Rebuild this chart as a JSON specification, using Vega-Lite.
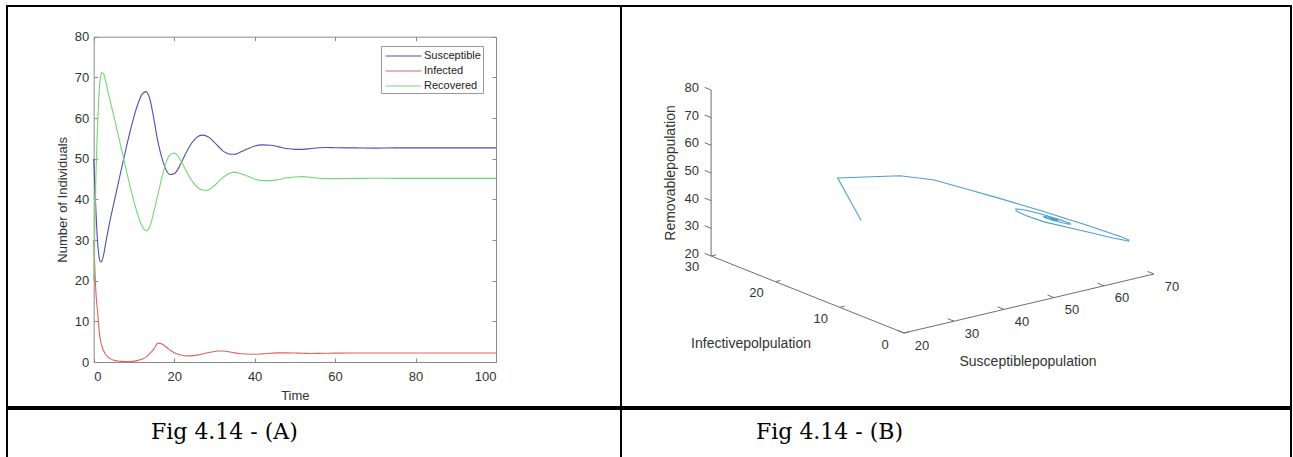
{
  "$schema": "https://vega.github.io/schema/vega-lite/v6.json",
  "padding": {"left": 6, "top": 5, "right": 0, "bottom": 0},
  "spacing": 0,
  "config": {
    "view": {"stroke": "black", "strokeWidth": 2},
    "font": "Liberation Sans",
    "axis": {"labelFont": "Liberation Sans", "titleFont": "Liberation Sans", "labelFontSize": 13, "titleFontSize": 13, "titleFontWeight": "normal", "labelColor": "#333333", "titleColor": "#333333", "domainColor": "#8a8a8a", "tickColor": "#8a8a8a", "grid": false}
  },
  "datasets": {
    "series": [
      {"t": 0, "Susceptible": 50, "Infected": 30, "Recovered": 20},
      {"t": 0.25, "Susceptible": 44, "Infected": 24, "Recovered": 32},
      {"t": 0.5, "Susceptible": 38.5, "Infected": 18, "Recovered": 43.5},
      {"t": 0.75, "Susceptible": 33, "Infected": 14.5, "Recovered": 52.5},
      {"t": 1, "Susceptible": 29, "Infected": 12, "Recovered": 59},
      {"t": 1.25, "Susceptible": 26.5, "Infected": 9, "Recovered": 64.5},
      {"t": 1.5, "Susceptible": 25, "Infected": 6.5, "Recovered": 68.5},
      {"t": 1.75, "Susceptible": 24.6, "Infected": 5, "Recovered": 70.4},
      {"t": 2, "Susceptible": 24.8, "Infected": 4, "Recovered": 71.2},
      {"t": 2.5, "Susceptible": 26.5, "Infected": 2.7, "Recovered": 70.8},
      {"t": 3, "Susceptible": 29.3, "Infected": 1.8, "Recovered": 68.9},
      {"t": 4, "Susceptible": 34.5, "Infected": 0.9, "Recovered": 64.6},
      {"t": 5, "Susceptible": 39, "Infected": 0.45, "Recovered": 60.5},
      {"t": 6, "Susceptible": 43.5, "Infected": 0.25, "Recovered": 56.2},
      {"t": 7, "Susceptible": 48, "Infected": 0.15, "Recovered": 51.9},
      {"t": 8, "Susceptible": 52.3, "Infected": 0.12, "Recovered": 47.6},
      {"t": 9, "Susceptible": 56.5, "Infected": 0.14, "Recovered": 43.4},
      {"t": 10, "Susceptible": 60.3, "Infected": 0.22, "Recovered": 39.5},
      {"t": 11, "Susceptible": 63.5, "Infected": 0.4, "Recovered": 36.1},
      {"t": 12, "Susceptible": 65.8, "Infected": 0.7, "Recovered": 33.5},
      {"t": 13, "Susceptible": 66.5, "Infected": 1.2, "Recovered": 32.3},
      {"t": 14, "Susceptible": 64.5, "Infected": 2.1, "Recovered": 33.4},
      {"t": 15, "Susceptible": 59.5, "Infected": 3.3, "Recovered": 37.2},
      {"t": 16, "Susceptible": 54, "Infected": 4.65, "Recovered": 41.35},
      {"t": 17, "Susceptible": 50, "Infected": 4.4, "Recovered": 45.6},
      {"t": 18, "Susceptible": 47.2, "Infected": 3.7, "Recovered": 49.1},
      {"t": 19, "Susceptible": 46.1, "Infected": 2.9, "Recovered": 51},
      {"t": 20, "Susceptible": 46.3, "Infected": 2.3, "Recovered": 51.4},
      {"t": 21, "Susceptible": 47.5, "Infected": 1.9, "Recovered": 50.6},
      {"t": 22, "Susceptible": 49.5, "Infected": 1.65, "Recovered": 48.9},
      {"t": 23, "Susceptible": 51.5, "Infected": 1.5, "Recovered": 47},
      {"t": 24, "Susceptible": 53.3, "Infected": 1.5, "Recovered": 45.2},
      {"t": 25, "Susceptible": 54.6, "Infected": 1.6, "Recovered": 43.8},
      {"t": 26, "Susceptible": 55.5, "Infected": 1.75, "Recovered": 42.8},
      {"t": 27, "Susceptible": 55.8, "Infected": 1.95, "Recovered": 42.3},
      {"t": 28, "Susceptible": 55.6, "Infected": 2.2, "Recovered": 42.2},
      {"t": 29, "Susceptible": 55, "Infected": 2.4, "Recovered": 42.6},
      {"t": 30, "Susceptible": 54, "Infected": 2.6, "Recovered": 43.4},
      {"t": 31, "Susceptible": 53, "Infected": 2.7, "Recovered": 44.3},
      {"t": 32, "Susceptible": 52, "Infected": 2.7, "Recovered": 45.3},
      {"t": 33, "Susceptible": 51.4, "Infected": 2.6, "Recovered": 46},
      {"t": 34, "Susceptible": 51.1, "Infected": 2.45, "Recovered": 46.5},
      {"t": 35, "Susceptible": 51.1, "Infected": 2.25, "Recovered": 46.7},
      {"t": 36, "Susceptible": 51.4, "Infected": 2.1, "Recovered": 46.5},
      {"t": 38, "Susceptible": 52.3, "Infected": 1.95, "Recovered": 45.8},
      {"t": 40, "Susceptible": 53.1, "Infected": 1.9, "Recovered": 45},
      {"t": 42, "Susceptible": 53.4, "Infected": 2, "Recovered": 44.6},
      {"t": 44, "Susceptible": 53.3, "Infected": 2.15, "Recovered": 44.6},
      {"t": 46, "Susceptible": 52.9, "Infected": 2.25, "Recovered": 44.9},
      {"t": 48, "Susceptible": 52.5, "Infected": 2.25, "Recovered": 45.3},
      {"t": 50, "Susceptible": 52.3, "Infected": 2.2, "Recovered": 45.5},
      {"t": 52, "Susceptible": 52.3, "Infected": 2.15, "Recovered": 45.6},
      {"t": 54, "Susceptible": 52.5, "Infected": 2.1, "Recovered": 45.4},
      {"t": 56, "Susceptible": 52.7, "Infected": 2.12, "Recovered": 45.2},
      {"t": 58, "Susceptible": 52.75, "Infected": 2.15, "Recovered": 45.1},
      {"t": 60, "Susceptible": 52.7, "Infected": 2.18, "Recovered": 45.1},
      {"t": 65, "Susceptible": 52.65, "Infected": 2.2, "Recovered": 45.15},
      {"t": 70, "Susceptible": 52.6, "Infected": 2.2, "Recovered": 45.2},
      {"t": 75, "Susceptible": 52.65, "Infected": 2.2, "Recovered": 45.15},
      {"t": 80, "Susceptible": 52.65, "Infected": 2.2, "Recovered": 45.15},
      {"t": 90, "Susceptible": 52.65, "Infected": 2.2, "Recovered": 45.15},
      {"t": 100, "Susceptible": 52.65, "Infected": 2.2, "Recovered": 45.15}
    ],
    "orbit": [
      {"t": 0, "S": 50, "I": 30, "R": 20},
      {"t": 1, "S": 25, "I": 14.2, "R": 60.7},
      {"t": 2, "S": 25, "I": 4.5, "R": 70.5},
      {"t": 3, "S": 28, "I": 1.5, "R": 70.5},
      {"t": 4, "S": 34.5, "I": 0.9, "R": 64.6},
      {"t": 5, "S": 39, "I": 0.45, "R": 60.5},
      {"t": 6, "S": 43.5, "I": 0.25, "R": 56.2},
      {"t": 7, "S": 48, "I": 0.15, "R": 51.9},
      {"t": 8, "S": 52.3, "I": 0.12, "R": 47.6},
      {"t": 9, "S": 56.5, "I": 0.14, "R": 43.4},
      {"t": 10, "S": 60.3, "I": 0.22, "R": 39.5},
      {"t": 11, "S": 63.5, "I": 0.4, "R": 36.1},
      {"t": 12, "S": 65.8, "I": 0.7, "R": 33.5},
      {"t": 13, "S": 66.5, "I": 1.2, "R": 32.3},
      {"t": 14, "S": 64.5, "I": 2.1, "R": 33.4},
      {"t": 15, "S": 59.5, "I": 3.3, "R": 37.2},
      {"t": 16, "S": 54, "I": 4.65, "R": 41.35},
      {"t": 17, "S": 50, "I": 4.4, "R": 45.6},
      {"t": 18, "S": 47.2, "I": 3.7, "R": 49.1},
      {"t": 19, "S": 46.1, "I": 2.9, "R": 51},
      {"t": 20, "S": 46.3, "I": 2.3, "R": 51.4},
      {"t": 21, "S": 47.5, "I": 1.9, "R": 50.6},
      {"t": 22, "S": 49.5, "I": 1.65, "R": 48.9},
      {"t": 23, "S": 51.5, "I": 1.5, "R": 47},
      {"t": 24, "S": 53.3, "I": 1.5, "R": 45.2},
      {"t": 25, "S": 54.6, "I": 1.6, "R": 43.8},
      {"t": 26, "S": 55.5, "I": 1.75, "R": 42.8},
      {"t": 27, "S": 55.8, "I": 1.95, "R": 42.3},
      {"t": 28, "S": 55.6, "I": 2.2, "R": 42.2},
      {"t": 29, "S": 55, "I": 2.4, "R": 42.6},
      {"t": 30, "S": 54, "I": 2.6, "R": 43.4},
      {"t": 31, "S": 53, "I": 2.7, "R": 44.3},
      {"t": 32, "S": 52, "I": 2.7, "R": 45.3},
      {"t": 33, "S": 51.4, "I": 2.6, "R": 46},
      {"t": 34, "S": 51.1, "I": 2.45, "R": 46.5},
      {"t": 35, "S": 51.1, "I": 2.25, "R": 46.7},
      {"t": 36, "S": 51.4, "I": 2.1, "R": 46.5},
      {"t": 38, "S": 52.3, "I": 1.95, "R": 45.8},
      {"t": 40, "S": 53.1, "I": 1.9, "R": 45},
      {"t": 42, "S": 53.4, "I": 2, "R": 44.6},
      {"t": 44, "S": 53.3, "I": 2.15, "R": 44.6},
      {"t": 46, "S": 52.9, "I": 2.25, "R": 44.9},
      {"t": 48, "S": 52.5, "I": 2.25, "R": 45.3},
      {"t": 50, "S": 52.3, "I": 2.2, "R": 45.5},
      {"t": 52, "S": 52.3, "I": 2.15, "R": 45.6},
      {"t": 54, "S": 52.5, "I": 2.1, "R": 45.4},
      {"t": 56, "S": 52.7, "I": 2.12, "R": 45.2},
      {"t": 58, "S": 52.75, "I": 2.15, "R": 45.1},
      {"t": 60, "S": 52.7, "I": 2.18, "R": 45.1},
      {"t": 70, "S": 52.6, "I": 2.2, "R": 45.2},
      {"t": 100, "S": 52.65, "I": 2.2, "R": 45.15}
    ],
    "ticks": [
      {"axis": "S", "value": 20}, {"axis": "S", "value": 30}, {"axis": "S", "value": 40},
      {"axis": "S", "value": 50}, {"axis": "S", "value": 60}, {"axis": "S", "value": 70},
      {"axis": "I", "value": 0}, {"axis": "I", "value": 10}, {"axis": "I", "value": 20}, {"axis": "I", "value": 30},
      {"axis": "R", "value": 20}, {"axis": "R", "value": 30}, {"axis": "R", "value": 40}, {"axis": "R", "value": 50},
      {"axis": "R", "value": 60}, {"axis": "R", "value": 70}, {"axis": "R", "value": 80}
    ],
    "axisTitles": [
      {"axis": "S", "title": "Susceptiblepopulation"},
      {"axis": "I", "title": "Infectivepolpulation"},
      {"axis": "R", "title": "Removablepopulation"}
    ],
    "captions": [
      {"panel": "A", "caption": "Fig 4.14 - (A)"},
      {"panel": "B", "caption": "Fig 4.14 - (B)"}
    ]
  },
  "vconcat": [
    {
      "bounds": "flush",
      "spacing": 0,
      "hconcat": [
        {
          "width": 614,
          "height": 401,
          "data": {"name": "series"},
          "transform": [{"fold": ["Susceptible", "Infected", "Recovered"], "as": ["series", "value"]}],
          "layer": [
            {
              "mark": {"type": "line", "strokeWidth": 1.1, "interpolate": "monotone"},
              "encoding": {
                "x": {"field": "t", "type": "quantitative",
                  "scale": {"domain": [0, 100], "range": [86.7, 489], "nice": false},
                  "axis": {"orient": "bottom", "offset": -45, "values": [0, 20, 40, 60, 80, 100], "tickSize": -4, "labelPadding": 12, "title": "Time", "titlePadding": 6}},
                "y": {"field": "value", "type": "quantitative",
                  "scale": {"domain": [0, 80], "range": [356, 30.7], "nice": false, "zero": false},
                  "axis": {"orient": "left", "offset": -86.7, "values": [0, 10, 20, 30, 40, 50, 60, 70, 80], "tickSize": -4, "labelPadding": 9, "title": "Number of Individuals", "titlePadding": 5}},
                "color": {"field": "series", "type": "nominal",
                  "scale": {"domain": ["Susceptible", "Infected", "Recovered"], "range": ["#5050b0", "#dc6464", "#72d872"]},
                  "legend": {"orient": "none", "legendX": 374, "legendY": 40, "title": null, "symbolType": "M-0.73,0H4.07", "symbolSize": 225, "symbolStrokeWidth": 1, "labelFont": "Liberation Sans", "labelFontSize": 11, "labelColor": "#222222", "strokeColor": "#999999", "fillColor": "white", "padding": 2, "rowPadding": 2, "labelOffset": 25}}
              }
            },
            {
              "mark": {"type": "line", "strokeOpacity": 0},
              "encoding": {
                "x": {"field": "t", "type": "quantitative",
                  "axis": {"orient": "top", "offset": -30.7, "values": [0, 20, 40, 60, 80, 100], "tickSize": -4, "labels": false, "title": null}},
                "y": {"field": "value", "type": "quantitative",
                  "axis": {"orient": "right", "offset": -125, "values": [0, 10, 20, 30, 40, 50, 60, 70, 80], "tickSize": -4, "labels": false, "title": null}}
              }
            }
          ],
          "resolve": {"axis": {"x": "independent", "y": "independent"}}
        },
        {
          "width": 670,
          "height": 401,
          "encoding": {
            "x": {"field": "u", "type": "quantitative", "scale": {"domain": [-283, 387], "nice": false, "zero": false}, "axis": null},
            "y": {"field": "v", "type": "quantitative", "scale": {"domain": [-74, 327], "nice": false, "zero": false}, "axis": null}
          },
          "layer": [
            {
              "data": {"name": "ticks"},
              "transform": [
                {"aggregate": [{"op": "min", "field": "value", "as": "lo"}, {"op": "max", "field": "value", "as": "hi"}], "groupby": ["axis"]},
                {"calculate": "datum.axis=='S' ? datum.lo : 20", "as": "S1"},
                {"calculate": "datum.axis=='I' ? datum.lo : (datum.axis=='R' ? 30 : 0)", "as": "I1"},
                {"calculate": "datum.axis=='R' ? datum.lo : 20", "as": "R1"},
                {"calculate": "datum.axis=='S' ? datum.hi : 20", "as": "S2"},
                {"calculate": "datum.axis=='I' ? datum.hi : (datum.axis=='R' ? 30 : 0)", "as": "I2"},
                {"calculate": "datum.axis=='R' ? datum.hi : 20", "as": "R2"},
                {"calculate": "5*(datum.S1-20) - 6.43*datum.I1", "as": "u"},
                {"calculate": "1.18*(datum.S1-20) + 2.567*datum.I1 + 2.767*(datum.R1-20)", "as": "v"},
                {"calculate": "5*(datum.S2-20) - 6.43*datum.I2", "as": "u2"},
                {"calculate": "1.18*(datum.S2-20) + 2.567*datum.I2 + 2.767*(datum.R2-20)", "as": "v2"}
              ],
              "mark": {"type": "rule", "color": "#6e6e6e", "strokeWidth": 1},
              "encoding": {"x2": {"field": "u2"}, "y2": {"field": "v2"}}
            },
            {
              "data": {"name": "ticks"},
              "transform": [
                {"calculate": "datum.axis=='S' ? datum.value : 20", "as": "S"},
                {"calculate": "datum.axis=='I' ? datum.value : (datum.axis=='R' ? 30 : 0)", "as": "I"},
                {"calculate": "datum.axis=='R' ? datum.value : 20", "as": "R"},
                {"calculate": "datum.axis=='I' ? datum.S + 1 : datum.S", "as": "S2"},
                {"calculate": "datum.axis=='I' ? datum.I : datum.I + 1", "as": "I2"},
                {"calculate": "5*(datum.S-20) - 6.43*datum.I", "as": "u"},
                {"calculate": "1.18*(datum.S-20) + 2.567*datum.I + 2.767*(datum.R-20)", "as": "v"},
                {"calculate": "5*(datum.S2-20) - 6.43*datum.I2", "as": "u2"},
                {"calculate": "1.18*(datum.S2-20) + 2.567*datum.I2 + 2.767*(datum.R-20)", "as": "v2"}
              ],
              "mark": {"type": "rule", "color": "#6e6e6e", "strokeWidth": 1},
              "encoding": {"x2": {"field": "u2"}, "y2": {"field": "v2"}}
            },
            {
              "data": {"name": "ticks"},
              "transform": [
                {"filter": "datum.axis=='R'"},
                {"calculate": "-193", "as": "u"},
                {"calculate": "77 + 2.767*(datum.value-20)", "as": "v"}
              ],
              "mark": {"type": "text", "align": "right", "baseline": "middle", "dx": -12, "dy": -2, "fontSize": 13, "color": "#333333"},
              "encoding": {"text": {"field": "value", "type": "quantitative"}}
            },
            {
              "data": {"name": "ticks"},
              "transform": [
                {"filter": "datum.axis=='I'"},
                {"calculate": "-6.43*datum.value", "as": "u"},
                {"calculate": "2.567*datum.value", "as": "v"}
              ],
              "mark": {"type": "text", "align": "center", "baseline": "middle", "dx": -19, "dy": 11.5, "fontSize": 13, "color": "#333333"},
              "encoding": {"text": {"field": "value", "type": "quantitative"}}
            },
            {
              "data": {"name": "ticks"},
              "transform": [
                {"filter": "datum.axis=='S'"},
                {"calculate": "5*(datum.value-20)", "as": "u"},
                {"calculate": "1.18*(datum.value-20)", "as": "v"}
              ],
              "mark": {"type": "text", "align": "center", "baseline": "middle", "dx": 18, "dy": 12.5, "fontSize": 13, "color": "#333333"},
              "encoding": {"text": {"field": "value", "type": "quantitative"}}
            },
            {
              "data": {"name": "orbit"},
              "transform": [
                {"calculate": "5*(datum.S-20) - 6.43*datum.I", "as": "u"},
                {"calculate": "1.18*(datum.S-20) + 2.567*datum.I + 2.767*(datum.R-20)", "as": "v"}
              ],
              "mark": {"type": "line", "color": "#4d9fd1", "strokeWidth": 1.1, "interpolate": "linear"},
              "encoding": {"order": {"field": "t", "type": "quantitative"}}
            },
            {
              "data": {"name": "ticks"},
              "transform": [
                {"aggregate": [{"op": "mean", "field": "value", "as": "mid"}], "groupby": ["axis"]},
                {"lookup": "axis", "from": {"data": {"name": "axisTitles"}, "key": "axis", "fields": ["title"]}},
                {"filter": "datum.axis=='S'"},
                {"calculate": "5*(datum.mid-20)", "as": "u"},
                {"calculate": "1.18*(datum.mid-20)", "as": "v"}
              ],
              "mark": {"type": "text", "align": "center", "baseline": "middle", "dx": -1, "dy": 58.5, "fontSize": 14, "color": "#333333"},
              "encoding": {"text": {"field": "title", "type": "nominal"}}
            },
            {
              "data": {"name": "ticks"},
              "transform": [
                {"aggregate": [{"op": "mean", "field": "value", "as": "mid"}], "groupby": ["axis"]},
                {"lookup": "axis", "from": {"data": {"name": "axisTitles"}, "key": "axis", "fields": ["title"]}},
                {"filter": "datum.axis=='I'"},
                {"calculate": "-6.43*datum.mid", "as": "u"},
                {"calculate": "2.567*datum.mid", "as": "v"}
              ],
              "mark": {"type": "text", "align": "center", "baseline": "middle", "dx": -56.5, "dy": 49.5, "fontSize": 14, "color": "#333333"},
              "encoding": {"text": {"field": "title", "type": "nominal"}}
            },
            {
              "data": {"name": "ticks"},
              "transform": [
                {"aggregate": [{"op": "mean", "field": "value", "as": "mid"}], "groupby": ["axis"]},
                {"lookup": "axis", "from": {"data": {"name": "axisTitles"}, "key": "axis", "fields": ["title"]}},
                {"filter": "datum.axis=='R'"},
                {"calculate": "-193", "as": "u"},
                {"calculate": "77 + 2.767*(datum.mid-20)", "as": "v"}
              ],
              "mark": {"type": "text", "align": "center", "baseline": "middle", "angle": 270, "dx": 0, "dy": -40, "fontSize": 14, "color": "#333333"},
              "encoding": {"text": {"field": "title", "type": "nominal"}}
            }
          ]
        }
      ]
    },
    {
      "bounds": "flush",
      "spacing": 0,
      "hconcat": [
        {
          "width": 614,
          "height": 52,
          "view": {"stroke": "black", "strokeWidth": 2},
          "data": {"name": "captions"},
          "transform": [{"filter": "datum.panel=='A'"}],
          "mark": {"type": "text", "font": "DejaVu Serif", "fontSize": 22, "align": "left", "baseline": "alphabetic", "dx": -163, "dy": 4, "color": "black"},
          "encoding": {"text": {"field": "caption", "type": "nominal"}}
        },
        {
          "width": 670,
          "height": 52,
          "view": {"stroke": "black", "strokeWidth": 2},
          "data": {"name": "captions"},
          "transform": [{"filter": "datum.panel=='B'"}],
          "mark": {"type": "text", "font": "DejaVu Serif", "fontSize": 22, "align": "left", "baseline": "alphabetic", "dx": -200, "dy": 4, "color": "black"},
          "encoding": {"text": {"field": "caption", "type": "nominal"}}
        }
      ]
    }
  ]
}
